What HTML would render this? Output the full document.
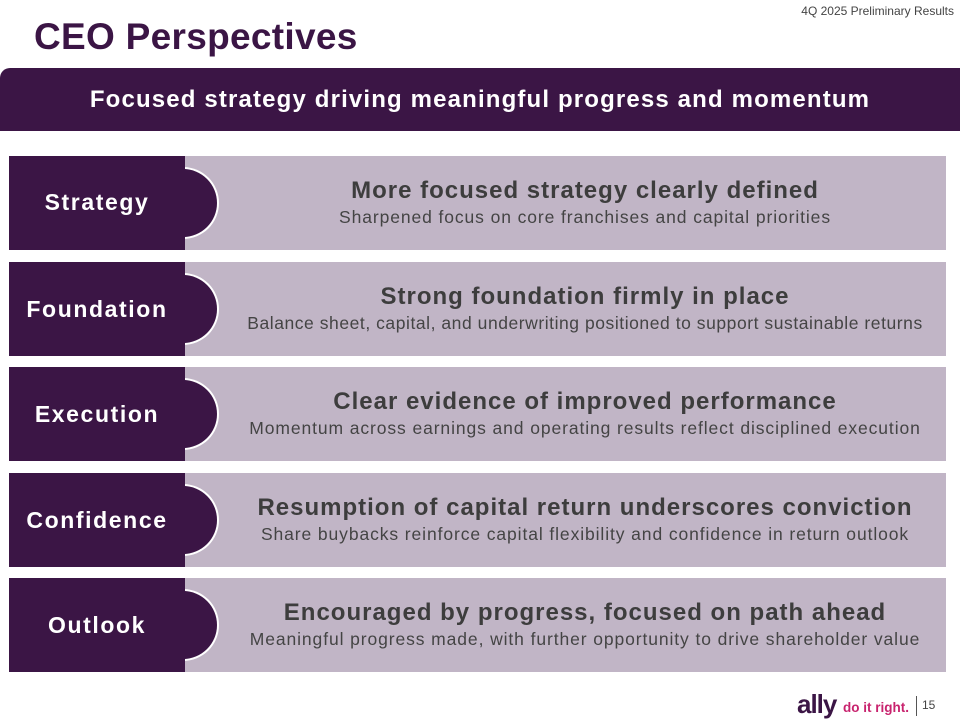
<!DOCTYPE html>
<html><head><meta charset="utf-8"><style>
body{margin:0;width:960px;height:720px;background:#fff;position:relative;overflow:hidden;font-family:"Liberation Sans",sans-serif}
.hdr{position:absolute;right:6px;top:4px;font-size:12px;color:#444}
.title{position:absolute;left:34px;top:16px;font-size:37px;font-weight:bold;color:#3b1545;letter-spacing:0.3px}
.banner{position:absolute;left:0;top:68px;width:960px;height:63px;background:#3b1545;border-radius:10px 0 0 0;color:#fff;font-weight:bold;font-size:24px;text-align:center;line-height:63px;letter-spacing:1.15px}
.row{position:absolute;left:9px;width:937px;height:94px;background:#c1b5c6}
.row .d{position:absolute;left:0;top:0;width:176px;height:94px;background:#3b1545}
.row .b{position:absolute;left:140px;top:13px;width:68px;height:68px;border-radius:50%;background:#3b1545;box-shadow:0 0 0 2px #fff;clip-path:inset(-3px -3px -3px 36px)}
.row .l{position:absolute;left:-9px;width:194px;top:0;height:94px;line-height:94px;text-align:center;color:#fff;font-weight:bold;font-size:23px;letter-spacing:1.6px}
.row .t{position:absolute;left:215px;right:0;top:20px;text-align:center;color:#3d3d3d}
.t .h{font-weight:bold;font-size:24px;line-height:30px;letter-spacing:1px}
.t .s{font-size:17.5px;line-height:22px;color:#444;letter-spacing:0.9px}
</style></head><body>
<div class="hdr">4Q 2025 Preliminary Results</div>
<div class="title">CEO Perspectives</div>
<div class="banner">Focused strategy driving meaningful progress and momentum</div>

<div class="row" style="top:156px"><div class="d"></div><div class="b"></div><div class="l" style="line-height:92px">Strategy</div><div class="t"><div class="h">More focused strategy clearly defined</div><div class="s">Sharpened focus on core franchises and capital priorities</div></div></div>
<div class="row" style="top:262px"><div class="d"></div><div class="b"></div><div class="l">Foundation</div><div class="t"><div class="h">Strong foundation firmly in place</div><div class="s" style="letter-spacing:0.55px">Balance sheet, capital, and underwriting positioned to support sustainable returns</div></div></div>
<div class="row" style="top:367px"><div class="d"></div><div class="b"></div><div class="l">Execution</div><div class="t"><div class="h">Clear evidence of improved performance</div><div class="s">Momentum across earnings and operating results reflect disciplined execution</div></div></div>
<div class="row" style="top:473px"><div class="d"></div><div class="b"></div><div class="l">Confidence</div><div class="t"><div class="h">Resumption of capital return underscores conviction</div><div class="s">Share buybacks reinforce capital flexibility and confidence in return outlook</div></div></div>
<div class="row" style="top:578px"><div class="d"></div><div class="b"></div><div class="l">Outlook</div><div class="t"><div class="h">Encouraged by progress, focused on path ahead</div><div class="s">Meaningful progress made, with further opportunity to drive shareholder value</div></div></div>

<div style="position:absolute;left:797px;top:689px;font-size:26px;font-weight:bold;color:#3b1545;letter-spacing:-1px">ally</div>
<div style="position:absolute;left:843px;top:700px;font-size:13.5px;font-weight:bold;color:#c8236e">do it right.</div>
<div style="position:absolute;left:916px;top:696px;width:1px;height:20px;background:#555"></div>
<div style="position:absolute;left:922px;top:698px;font-size:12px;color:#444">15</div>
</body></html>
